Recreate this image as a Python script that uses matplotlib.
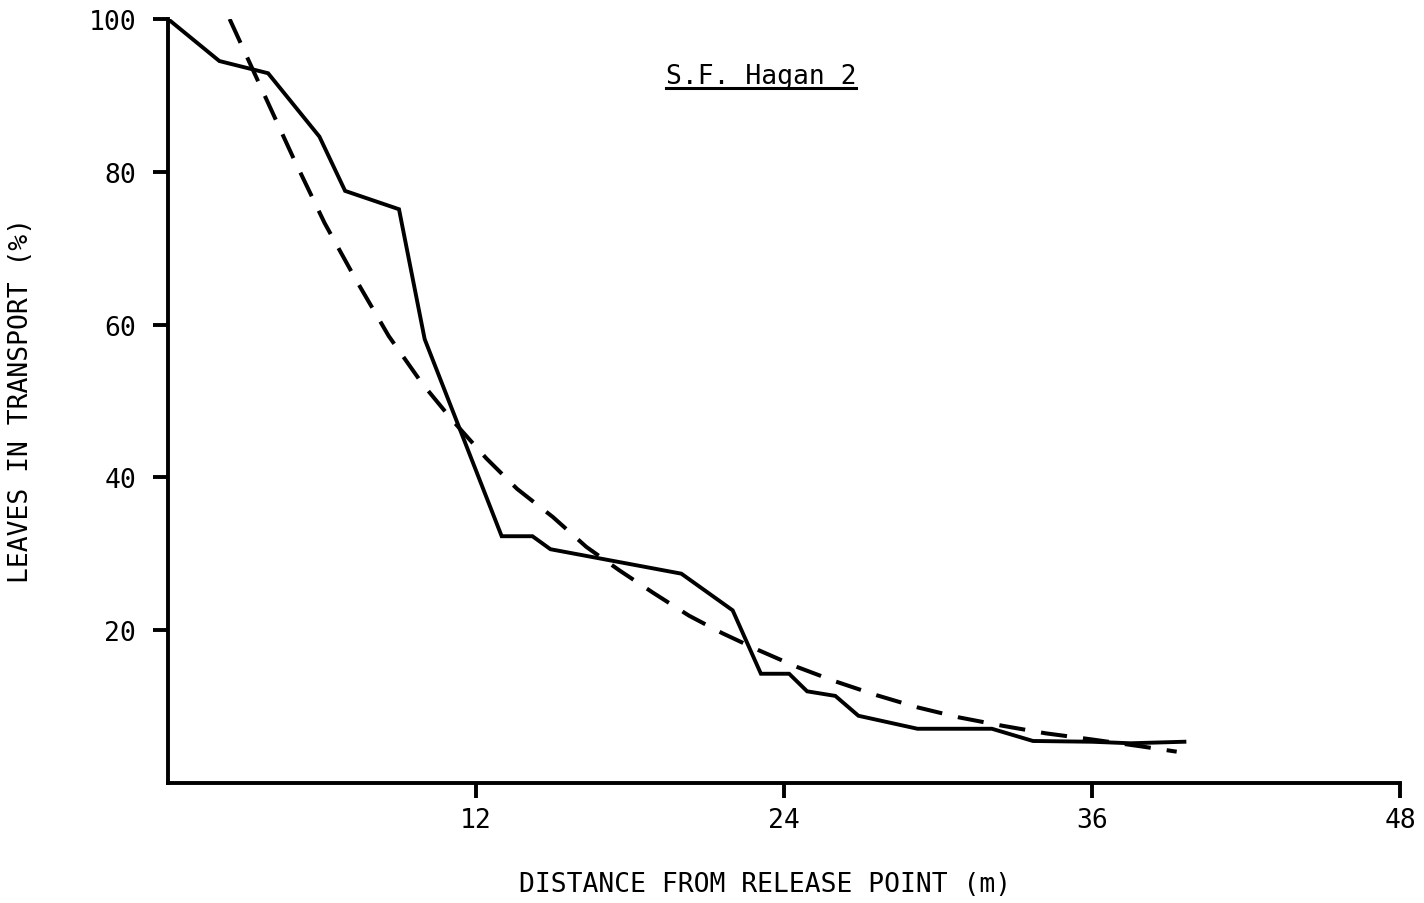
import matplotlib
matplotlib.use('Agg')
import matplotlib.pyplot as plt

# observed percentages of leaves still in transport (solid line)
obs_dist = [0, 2.0, 3.9, 5.9, 6.9, 9.0, 10.0, 13.0, 14.2, 14.9, 20.0, 22.0,
            23.1, 24.2, 24.9, 26.0, 26.9, 29.2, 32.1, 33.7, 36.0, 37.5, 39.6]
obs_pct = [100, 94.5, 92.9, 84.6, 77.5, 75.1, 58.1, 32.3, 32.3, 30.6, 27.4, 22.6,
           14.3, 14.3, 12.0, 11.4, 8.8, 7.1, 7.1, 5.5, 5.4, 5.2, 5.4]

# fitted curve (dashed line)
fit_dist = [2.4, 3.6, 4.9, 6.1, 7.3, 8.6, 9.9, 11.1, 12.4, 13.6, 15.0, 16.3,
            17.6, 18.9, 20.3, 21.6, 23.0, 24.5, 26.0, 27.6, 29.2, 30.8, 32.5,
            34.2, 36.0, 37.9, 39.3]
fit_pct = [100, 91.2, 81.7, 73.3, 66.0, 58.5, 52.3, 47.4, 42.5, 38.5, 34.8, 30.9,
           27.8, 24.9, 21.9, 19.6, 17.4, 15.2, 13.3, 11.5, 9.9, 8.6, 7.5,
           6.5, 5.7, 4.8, 4.1]

x_ticks = [12, 24, 36, 48]
y_ticks = [20, 40, 60, 80, 100]

FONT = 'DejaVu Sans Mono'
FS = 19

fig = plt.figure(figsize=(14.24, 9.04), dpi=100)
ax = fig.add_axes([168 / 1424, 1 - 784 / 904, (1400 - 168) / 1424, (784 - 20) / 904])

ax.plot(obs_dist, obs_pct, color='black', lw=2.8, solid_joinstyle='miter')
ax.plot(fit_dist, fit_pct, color='black', lw=2.9, dashes=(6.5, 4))

ax.set_xlim(0, 48)
ax.set_ylim(0, 100)
for side in ['top', 'right']:
    ax.spines[side].set_visible(False)
for side in ['left', 'bottom']:
    ax.spines[side].set_linewidth(2.8)

ax.set_xticks(x_ticks)
ax.set_yticks(y_ticks)
ax.tick_params(axis='both', direction='out', length=11, width=2.8,
               labelsize=FS)
ax.tick_params(axis='y', pad=12)
ax.tick_params(axis='x', pad=6)
for lab in ax.get_xticklabels() + ax.get_yticklabels():
    lab.set_fontfamily(FONT)

ax.set_xlabel('DISTANCE FROM RELEASE POINT (m)', fontsize=FS, family=FONT)
ax.xaxis.set_label_coords((765 - 168) / 1232, (784 - 872) / 764)
ax.set_ylabel('LEAVES IN TRANSPORT (%)', fontsize=FS, family=FONT)
ax.yaxis.set_label_coords((34 - 168) / 1232, (784 - 400) / 764)

title = ax.text(23.1, 92.6, 'S.F. Hagan 2', fontsize=FS, family=FONT,
                ha='center', va='center')

# underline the title
fig.canvas.draw()
bb = title.get_window_extent().transformed(ax.transData.inverted())
ax.plot([bb.x0, bb.x1], [bb.y0 + 0.1, bb.y0 + 0.1], color='black', lw=2.2,
        clip_on=False)

fig.savefig('out.png', dpi=100)
